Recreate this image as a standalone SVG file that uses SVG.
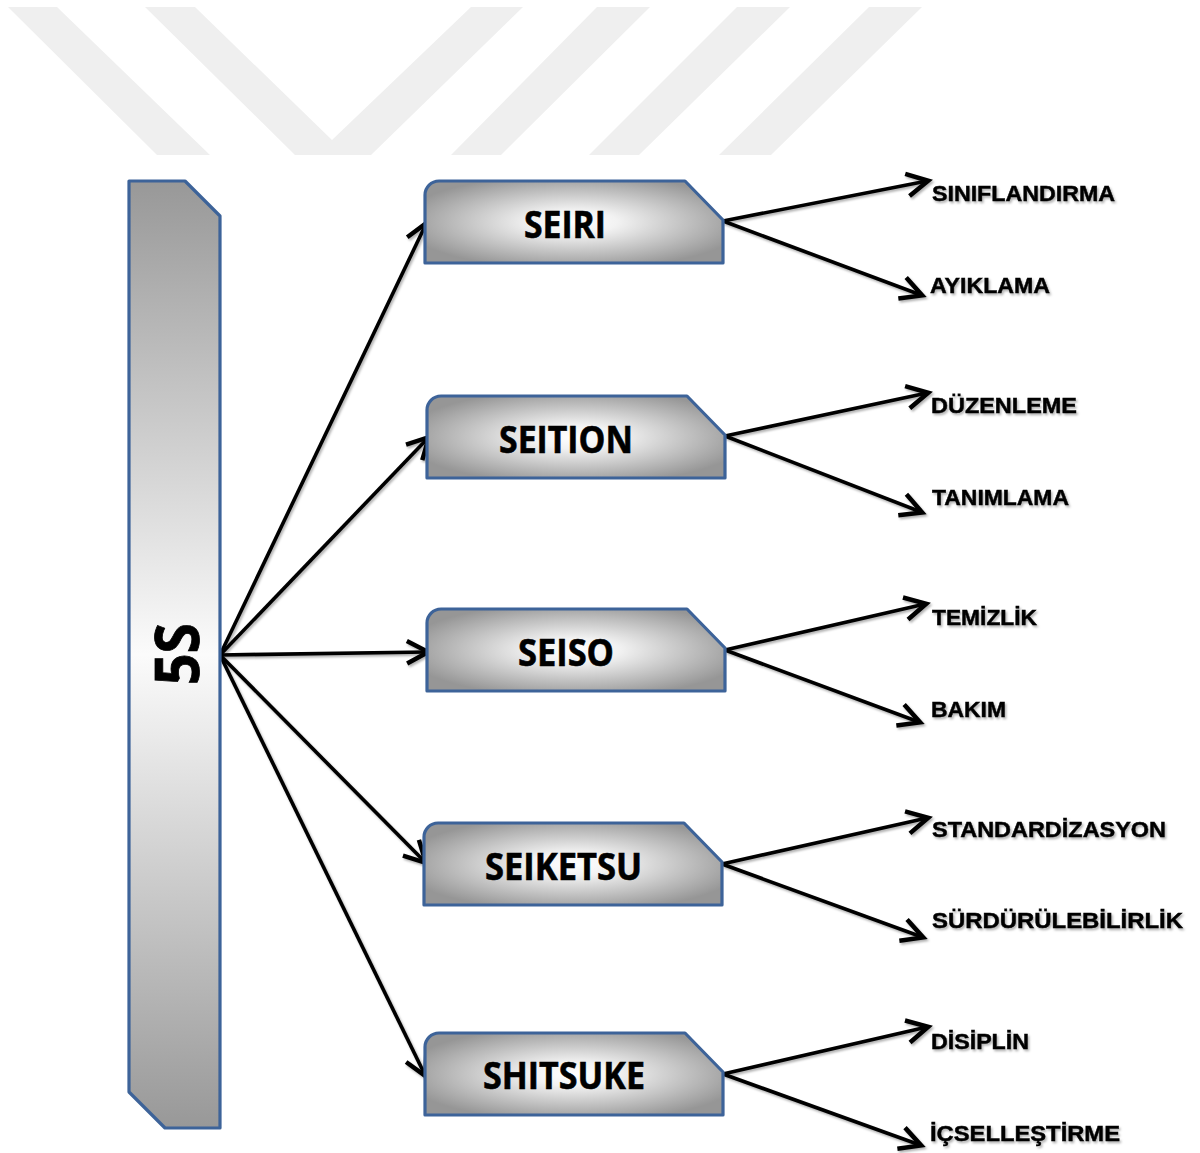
<svg xmlns="http://www.w3.org/2000/svg" width="1200" height="1153" viewBox="0 0 1200 1153">
  <defs>
    <style>
      .wm { fill: #efefef; }
      .box { stroke: #3d6399; stroke-width: 3.2; stroke-linejoin: round; }
      .node-text { font-family: "Open Sans", "Noto Sans", "DejaVu Sans", sans-serif; font-weight: 700; font-size: 37px; fill: #000; stroke: #000; stroke-width: 0.6; text-anchor: middle; }
      .root-text { font-size: 60px; stroke-width: 0.8; }
      .leaf { font-family: "Liberation Sans", Arial, sans-serif; font-weight: 700; font-size: 22px; fill: #000; stroke: #000; stroke-width: 0.45; }
      .edge { fill: none; stroke: #000; stroke-width: 3.6; marker-end: url(#arrow); }
    </style>
    <linearGradient id="barFill" x1="0" y1="0" x2="0" y2="1">
      <stop offset="0" stop-color="#989898"/>
      <stop offset="0.5" stop-color="#fbfbfb"/>
      <stop offset="1" stop-color="#989898"/>
    </linearGradient>
    <radialGradient id="nodeFill" cx="0.5" cy="0.5" r="0.58">
      <stop offset="0" stop-color="#ffffff"/>
      <stop offset="0.25" stop-color="#f2f2f2"/>
      <stop offset="1" stop-color="#969696"/>
    </radialGradient>
    <path id="tab" d="M0,14 A14,14 0 0 1 14,0 L260,0 L298,39 L298,82 L0,82 Z"/>
    <marker id="arrow" markerUnits="userSpaceOnUse" markerWidth="30" markerHeight="30" viewBox="-20 -12 24 24" refX="-1" refY="0" orient="auto">
      <path d="M-17,-9 L0,0 L-17,9" fill="none" stroke="#000" stroke-width="3.6" stroke-linejoin="miter"/>
    </marker>
    <filter id="shadow" x="-10%" y="-10%" width="120%" height="130%">
      <feDropShadow dx="1.5" dy="2" stdDeviation="1.2" flood-color="#000" flood-opacity="0.3"/>
    </filter>
    <filter id="soft" x="-5%" y="-5%" width="110%" height="110%">
      <feGaussianBlur stdDeviation="0.7"/>
    </filter>
  </defs>

  <!-- light chevron band across the top -->
  <g id="watermark" filter="url(#soft)">
    <polygon class="wm" points="8,7 57,7 210,155 157,155"/>
    <polygon class="wm" points="145,7 195,7 332,140 471,7 523,7 371,155 295,155"/>
    <polygon class="wm" points="597,7 650,7 501,155 451,155"/>
    <polygon class="wm" points="737,7 790,7 639,155 589,155"/>
    <polygon class="wm" points="869,7 922,7 771,155 719,155"/>
  </g>

  <!-- connectors -->
  <g id="connectors" filter="url(#shadow)">
    <line class="edge" x1="220" y1="655" x2="426" y2="224"/>
    <line class="edge" x1="220" y1="655" x2="428" y2="438"/>
    <line class="edge" x1="220" y1="655" x2="427" y2="652"/>
    <line class="edge" x1="220" y1="655" x2="425" y2="862"/>
    <line class="edge" x1="220" y1="655" x2="425" y2="1075"/>

    <line class="edge" x1="723" y1="221" x2="927" y2="181"/>
    <line class="edge" x1="723" y1="221" x2="921" y2="295"/>
    <line class="edge" x1="725" y1="436" x2="927" y2="393"/>
    <line class="edge" x1="725" y1="436" x2="921" y2="512"/>
    <line class="edge" x1="725" y1="650" x2="925" y2="604"/>
    <line class="edge" x1="725" y1="650" x2="919" y2="722"/>
    <line class="edge" x1="722" y1="864" x2="927" y2="818"/>
    <line class="edge" x1="722" y1="864" x2="922" y2="937"/>
    <line class="edge" x1="723" y1="1074" x2="927" y2="1027"/>
    <line class="edge" x1="723" y1="1074" x2="920" y2="1145"/>
  </g>

  <!-- root bar -->
  <g id="node-5s">
    <polygon class="box" fill="url(#barFill)" points="129,181 185,181 220,216 220,1128 165,1128 129,1092"/>
    <text class="node-text root-text" transform="translate(199,654) rotate(-90)" textLength="62" lengthAdjust="spacingAndGlyphs">5S</text>
  </g>

  <!-- the five pillars -->
  <g id="node-seiri" transform="translate(425,181)">
    <use href="#tab" class="box" fill="url(#nodeFill)"/>
    <text class="node-text" x="140" y="57" textLength="82" lengthAdjust="spacingAndGlyphs">SEIRI</text>
  </g>
  <g id="node-seition" transform="translate(427,396)">
    <use href="#tab" class="box" fill="url(#nodeFill)"/>
    <text class="node-text" x="139" y="57" textLength="134" lengthAdjust="spacingAndGlyphs">SEITION</text>
  </g>
  <g id="node-seiso" transform="translate(427,609)">
    <use href="#tab" class="box" fill="url(#nodeFill)"/>
    <text class="node-text" x="139" y="57" textLength="96" lengthAdjust="spacingAndGlyphs">SEISO</text>
  </g>
  <g id="node-seiketsu" transform="translate(424,823)">
    <use href="#tab" class="box" fill="url(#nodeFill)"/>
    <text class="node-text" x="139.5" y="57" textLength="157" lengthAdjust="spacingAndGlyphs">SEIKETSU</text>
  </g>
  <g id="node-shitsuke" transform="translate(425,1033)">
    <use href="#tab" class="box" fill="url(#nodeFill)"/>
    <text class="node-text" x="139" y="56" textLength="162" lengthAdjust="spacingAndGlyphs">SHITSUKE</text>
  </g>

  <!-- leaf labels -->
  <g id="leaves" filter="url(#shadow)">
    <g id="leaf-siniflandirma"><text class="leaf" x="932" y="201" textLength="183" lengthAdjust="spacingAndGlyphs">SINIFLANDIRMA</text></g>
    <g id="leaf-ayiklama"><text class="leaf" x="930" y="293" textLength="120" lengthAdjust="spacingAndGlyphs">AYIKLAMA</text></g>
    <g id="leaf-duzenleme"><text class="leaf" x="931" y="413" textLength="146" lengthAdjust="spacingAndGlyphs">DÜZENLEME</text></g>
    <g id="leaf-tanimlama"><text class="leaf" x="932" y="505" textLength="137" lengthAdjust="spacingAndGlyphs">TANIMLAMA</text></g>
    <g id="leaf-temizlik"><text class="leaf" x="932" y="625" textLength="105" lengthAdjust="spacingAndGlyphs">TEMİZLİK</text></g>
    <g id="leaf-bakim"><text class="leaf" x="931" y="717" textLength="75" lengthAdjust="spacingAndGlyphs">BAKIM</text></g>
    <g id="leaf-standardizasyon"><text class="leaf" x="932" y="837" textLength="234" lengthAdjust="spacingAndGlyphs">STANDARDİZASYON</text></g>
    <g id="leaf-surdurulebilirlik"><text class="leaf" x="932" y="928" textLength="251" lengthAdjust="spacingAndGlyphs">SÜRDÜRÜLEBİLİRLİK</text></g>
    <g id="leaf-disiplin"><text class="leaf" x="931" y="1049" textLength="98" lengthAdjust="spacingAndGlyphs">DİSİPLİN</text></g>
    <g id="leaf-icsellestirme"><text class="leaf" x="930" y="1141" textLength="190" lengthAdjust="spacingAndGlyphs">İÇSELLEŞTİRME</text></g>
  </g>
</svg>
